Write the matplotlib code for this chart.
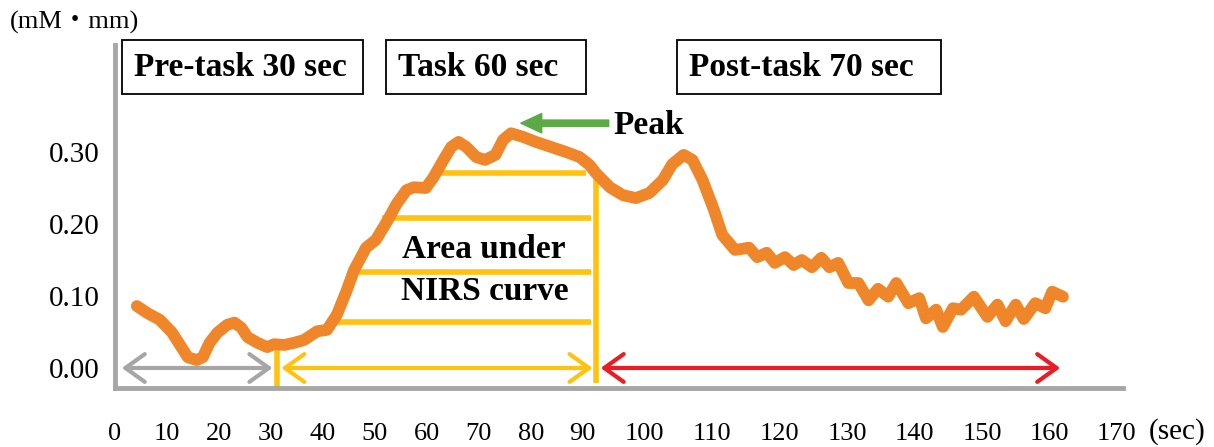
import numpy as np
import matplotlib
matplotlib.use("Agg")
import matplotlib.pyplot as plt
from matplotlib.patches import Rectangle, FancyArrowPatch
from matplotlib.ticker import NullLocator

# NIRS curve (time in sec, value in mM*mm)
T_SEC = [4.2, 6.3, 8.6, 10.9, 12.5, 14.0, 15.7, 16.9, 18.2, 19.7,
         21.6, 23.0, 24.3, 25.5, 27.4, 29.3, 30.6, 32.6, 34.5, 36.4,
         38.9, 40.8, 42.7, 44.6, 46.0, 48.3, 50.2, 52.3, 54.2, 56.1,
         57.5, 59.8, 61.3, 63.2, 64.7, 66.1, 67.6, 69.5, 71.2, 73.2,
         74.7, 76.2, 78.5, 81.0, 83.9, 86.8, 89.4, 91.1, 92.1, 94.4,
         96.5, 98.6, 100.7, 102.7, 104.1, 105.8, 107.1, 108.6, 110.3, 111.5,
         113.4, 115.5, 116.7, 118.1, 119.3, 120.8, 122.1, 123.3, 124.8, 126.2,
         127.4, 128.7, 130.2, 131.7, 133.2, 134.6, 136.1, 137.3, 139.1, 140.7,
         141.7, 143.2, 144.2, 145.7, 146.9, 148.8, 150.8, 152.3, 153.5, 155.0,
         156.2, 157.9, 159.4, 160.4, 162.0]
NIRS = [0.086, 0.076, 0.067, 0.050, 0.032, 0.015, 0.011, 0.015, 0.035, 0.049,
        0.060, 0.063, 0.056, 0.043, 0.035, 0.029, 0.033, 0.032, 0.035, 0.039,
        0.051, 0.053, 0.074, 0.108, 0.136, 0.167, 0.178, 0.203, 0.228, 0.247,
        0.251, 0.250, 0.265, 0.289, 0.307, 0.314, 0.307, 0.293, 0.289, 0.296,
        0.317, 0.326, 0.321, 0.314, 0.307, 0.300, 0.293, 0.282, 0.271, 0.251,
        0.240, 0.236, 0.243, 0.261, 0.283, 0.296, 0.289, 0.261, 0.219, 0.185,
        0.164, 0.167, 0.154, 0.160, 0.146, 0.154, 0.143, 0.150, 0.140, 0.153,
        0.140, 0.146, 0.118, 0.118, 0.094, 0.110, 0.099, 0.118, 0.090, 0.097,
        0.069, 0.081, 0.057, 0.083, 0.081, 0.099, 0.071, 0.088, 0.065, 0.088,
        0.068, 0.090, 0.083, 0.106, 0.099]

X_TICKS = list(range(0, 171, 10))
Y_TICKS = [0.0, 0.1, 0.2, 0.3]
Y_LABELS = ["0.00", "0.10", "0.20", "0.30"]

# "area under curve" hatch lines
AREA_Y = [0.271, 0.208, 0.133, 0.064]
AREA_X0 = [61.3, 51.3, 45.4, 41.7]
AREA_X1 = [90.6, 91.3, 91.3, 91.3]
TASK_START, TASK_END = 31.2, 92.1

# phase arrows (start, end) in sec
PRE_SPAN = (1.3, 30.3)
TASK_SPAN = (32.0, 91.6)
POST_SPAN = (92.9, 161.6)
PEAK_HEAD, PEAK_TAIL, PEAK_Y = 78.1, 94.2, 0.340

PHASES = ["Pre-task 30 sec", "Task 60 sec", "Post-task 70 sec"]

COLORS = {
    "curve": "#F0862A",
    "yellow": "#FFC20E",
    "gray": "#A6A6A6",
    "red": "#EC1C24",
    "green": "#5BAA45",
}

# the hand-made tick row is not evenly spaced: piecewise linear scale
KS = np.array([0.0, 90.0, 100.0, 170.0])
KP = np.array([0.0, 90.0, 101.9, 192.8])
HI = (KP[-1] - KP[-2]) / (KS[-1] - KS[-2])


def _fwd(x):
    x = np.asarray(x, float)
    y = np.interp(x, KS, KP)
    y = np.where(x > KS[-1], KP[-1] + (x - KS[-1]) * HI, y)
    return np.where(x < KS[0], x, y)


def _inv(y):
    y = np.asarray(y, float)
    x = np.interp(y, KP, KS)
    x = np.where(y > KP[-1], KS[-1] + (y - KP[-1]) / HI, x)
    return np.where(y < KP[0], y, x)


plt.rcParams["font.family"] = ["Liberation Serif", "Noto Sans CJK JP", "DejaVu Sans"]

W, H = 1214, 447
fig = plt.figure(figsize=(W / 100, H / 100), dpi=100)
ax = fig.add_axes([115 / W, 1 - 388 / H, (1123 - 115) / W, (388 - 45) / H])
ax.set_xscale("function", functions=(_fwd, _inv))
ax.set_xlim(0.96, 170.9)
ax.set_ylim(-0.0278, 0.4486)

for s in ("top", "right"):
    ax.spines[s].set_visible(False)
for s in ("left", "bottom"):
    ax.spines[s].set_color(COLORS["gray"])
    ax.spines[s].set_linewidth(3.5)

ax.set_xticks(X_TICKS)
ax.set_xticklabels([str(t) for t in X_TICKS], fontsize=19)
ax.xaxis.set_minor_locator(NullLocator())
ax.set_yticks(Y_TICKS)
ax.set_yticklabels(Y_LABELS, fontsize=21)
ax.tick_params(axis="x", length=0, pad=25)
ax.tick_params(axis="y", length=0, pad=11)

# yellow area lines
ax.hlines(AREA_Y, AREA_X0, AREA_X1, color=COLORS["yellow"], lw=4, zorder=2)
ax.vlines(TASK_END, -0.021, 0.265, color=COLORS["yellow"], lw=4, zorder=2)
ax.vlines(TASK_START, -0.0278, 0.028, color=COLORS["yellow"], lw=4, zorder=2)

ax.plot(T_SEC, NIRS, color=COLORS["curve"], lw=8.5, solid_capstyle="round",
        solid_joinstyle="round", zorder=3)


def _span(a, b, color):
    ax.add_patch(FancyArrowPatch((a, 0.0), (b, 0.0),
                                 arrowstyle="<->,head_length=0.7,head_width=0.5",
                                 mutation_scale=20, color=color, lw=3,
                                 capstyle="round", joinstyle="round",
                                 shrinkA=0, shrinkB=0, zorder=4))


_span(*PRE_SPAN, COLORS["gray"])
_span(*TASK_SPAN, COLORS["yellow"])
_span(*POST_SPAN, COLORS["red"])

ax.add_patch(FancyArrowPatch((PEAK_TAIL, PEAK_Y), (PEAK_HEAD, PEAK_Y),
                             arrowstyle="simple,head_length=1.5,head_width=1.4,tail_width=0.45",
                             mutation_scale=10, color=COLORS["green"],
                             shrinkA=0, shrinkB=0, zorder=4))
ax.text(95.0, 0.337, "Peak", fontsize=24, fontweight="bold", ha="left", va="center")

ax.text(70.9, 0.164, "Area under", fontsize=24, fontweight="bold", ha="center", va="center")
ax.text(71.2, 0.106, "NIRS curve", fontsize=24, fontweight="bold", ha="center", va="center")

# phase boxes (figure pixels)
BOXES = [(122, 363), (386, 586), (677, 941)]
for (x0, x1), label in zip(BOXES, PHASES):
    fig.add_artist(Rectangle((x0 / W, 1 - 94 / H), (x1 - x0) / W, 54 / H,
                             transform=fig.transFigure, fill=False,
                             ec="black", lw=1.3))
    fig.text((x0 + 12) / W, 1 - 68 / H, label, fontsize=24, fontweight="bold",
             ha="left", va="center")

fig.text(10 / W, 1 - 22 / H, "(mM\u30fbmm)", fontsize=19, ha="left", va="center")
fig.text(1177 / W, 1 - 432 / H, "(sec)", fontsize=21, ha="center", va="center")

fig.savefig("out.png", dpi=100)
plt.close(fig)
